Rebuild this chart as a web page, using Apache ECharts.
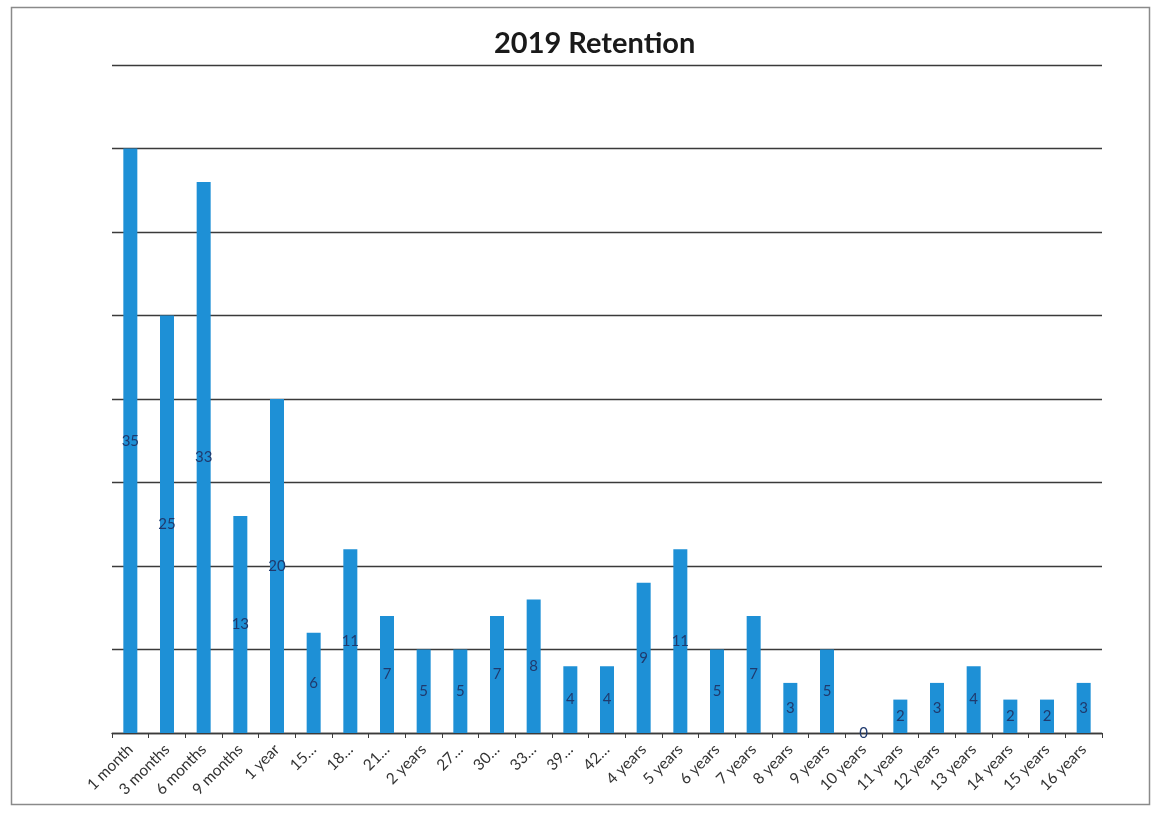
<!DOCTYPE html>
<html>
<head>
<meta charset="utf-8">
<script src="https://cdn.jsdelivr.net/npm/echarts@6/dist/echarts.min.js"></script>
<style>
  html, body { margin: 0; padding: 0; background: #ffffff; }
  #chart { width: 1159px; height: 813px; }
</style>
</head>
<body>
<div id="chart"></div>
<script>
// Retention periods and headcounts for 2019
const categories = [
  '1 month', '3 months', '6 months', '9 months', '1 year', '15…', '18…', '21…',
  '2 years', '27…', '30…', '33…', '39…', '42…', '4 years', '5 years', '6 years',
  '7 years', '8 years', '9 years', '10 years', '11 years', '12 years', '13 years',
  '14 years', '15 years', '16 years'
];
const counts = [35, 25, 33, 13, 20, 6, 11, 7, 5, 5, 7, 8, 4, 4, 9, 11, 5, 7, 3, 5, 0, 2, 3, 4, 2, 2, 3];
const chartTitle = '2019 Retention';

const chart = echarts.init(document.getElementById('chart'));
chart.setOption({
  animation: false,
  backgroundColor: '#ffffff',
  title: {
    text: chartTitle,
    left: 489,
    top: 24,
    textStyle: { fontFamily: 'Lato', fontWeight: 'bold', fontSize: 29, color: '#1a1a1a' }
  },
  graphic: [{
    type: 'rect',
    shape: { x: 11.5, y: 7.5, width: 1138, height: 797 },
    style: { fill: 'none', stroke: '#8a8a8a', lineWidth: 1.5 },
    silent: true
  }],
  grid: { left: 112, right: 57, top: 65, bottom: 80 },
  xAxis: {
    type: 'category',
    data: categories,
    boundaryGap: true,
    axisLine: { show: true, lineStyle: { color: '#3a3a3a', width: 1.3 } },
    axisTick: { show: true, alignWithLabel: false, length: 5, lineStyle: { color: '#3a3a3a' } },
    axisLabel: {
      rotate: 45,
      interval: 0,
      margin: 14,
      fontFamily: 'Lato',
      fontSize: 15.5,
      color: '#333'
    }
  },
  yAxis: {
    type: 'value',
    min: 0,
    max: 40,
    interval: 5,
    axisLine: { show: false },
    axisTick: { show: false },
    axisLabel: { show: false },
    splitLine: { show: true, lineStyle: { color: '#3a3a3a', width: 1.3 } }
  },
  series: [{
    type: 'bar',
    data: counts,
    barWidth: 14,
    itemStyle: { color: '#1e90d6' },
    label: {
      show: true,
      position: 'inside',
      fontFamily: 'Lato',
      fontSize: 15,
      color: '#1f3a6e'
    }
  }]
});
</script>
</body>
</html>
